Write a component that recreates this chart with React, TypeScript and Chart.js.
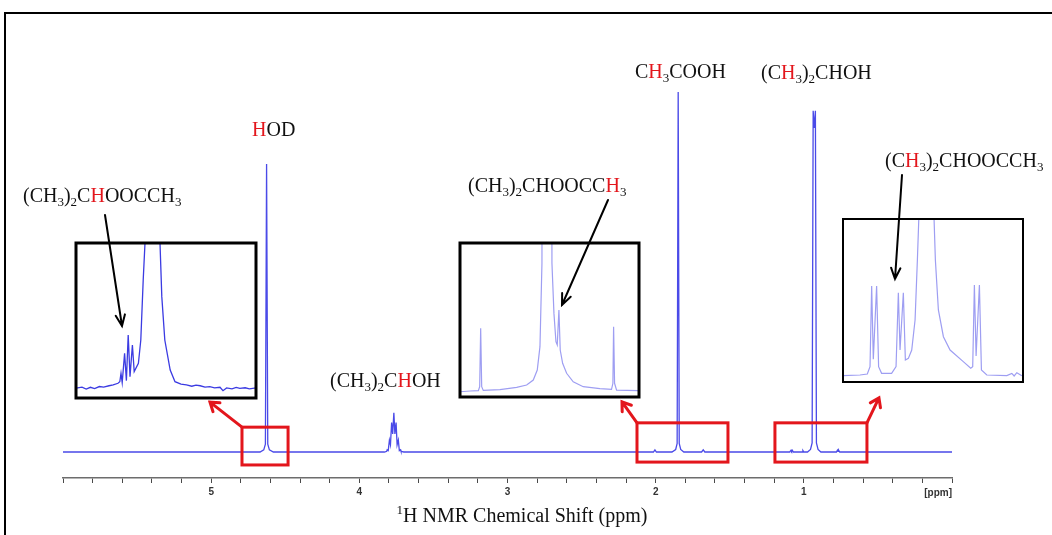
import React, { useEffect, useRef } from 'react';
import { Chart, registerables } from 'chart.js';

Chart.register(...registerables);

const W = 1052;
const H = 535;

// ---------- full 1H spectrum: chemical shift (ppm) / intensity (CH3COOH methyl = 100) ----------
const mainShift = [
  6.0, 4.67, 4.645, 4.634, 4.626, 4.618, 4.607, 4.58,
  3.83, 3.815, 3.812, 3.805, 3.797, 3.79, 3.782, 3.775, 3.767, 3.76, 3.752, 3.745, 3.737, 3.73, 3.722, 3.719, 3.7,
  2.015, 2.005, 1.995,
  1.89, 1.865, 1.855, 1.848, 1.841, 1.831, 1.81,
  1.69, 1.679, 1.668,
  1.095, 1.086, 1.082, 1.078, 1.07,
  1.012, 1.006, 1.0,
  0.975, 0.955, 0.944, 0.937, 0.93, 0.922, 0.915, 0.904, 0.885,
  0.78, 0.773, 0.769, 0.765, 0.758,
  0.0,
];
const mainIntensity = [
  0, 0, 0.6, 2.2, 80, 2.2, 0.6, 0,
  0, 0.2, 0.6, 0.4, 3.3, 2.0, 8.2, 5.0, 10.9, 5.0, 8.2, 2.0, 3.3, 0.4, 0.6, 0.2, 0,
  0, 0.6, 0,
  0, 0.7, 2.4, 100, 2.4, 0.7, 0,
  0, 0.6, 0,
  0, 0.5, 0.2, 0.5, 0,
  0, 0.4, 0,
  0, 0.7, 2.5, 94.8, 90, 94.8, 2.5, 0.7, 0,
  0, 0.5, 0.2, 0.5, 0,
  0,
];

// ---------- expansion around HOD (isopropyl acetate CH multiplet) ----------
const hodShift = [
  4.755, 4.745, 4.738, 4.731, 4.724, 4.716, 4.709, 4.7, 4.693, 4.685, 4.682,
  4.68, 4.678, 4.674, 4.671, 4.668, 4.665, 4.661, 4.658, 4.651, 4.647, 4.643, 4.64,
  4.628,
  4.615, 4.612, 4.607, 4.598, 4.59, 4.58, 4.571, 4.562, 4.555, 4.548, 4.54, 4.532,
  4.524, 4.515, 4.51, 4.504, 4.495, 4.488, 4.482, 4.473, 4.466, 4.455,
];
const hodIntensity = [
  6.3, 7.0, 5.8, 6.9, 6.1, 7.4, 7.0, 7.9, 8.4, 9.5, 10.5,
  15.9, 9.9, 28.8, 11.2, 40.6, 13.8, 34.2, 17.0, 22.4, 37.4, 76, 100,
  2500,
  100, 65.4, 37.4, 18, 10.5, 9.0, 8.4, 7.6, 8.3, 7.9, 7.0, 7.3,
  6.5, 6.9, 4.7, 6.5, 5.9, 6.8, 6.2, 6.6, 5.9, 6.5,
];

// ---------- expansion around CH3COOH (satellites, ester acetyl CH3) ----------
const acidShift = [
  2.061, 2.036, 2.016, 2.0127, 2.0103, 2.0078, 2.0039, 1.963, 1.922, 1.8975, 1.8813, 1.8715, 1.8649, 1.86,
  1.8478,
  1.8355, 1.8306, 1.8257, 1.8225, 1.8184, 1.8152, 1.8093, 1.7995, 1.7833, 1.7588, 1.7179,
  1.6894, 1.686, 1.6843, 1.6819, 1.677, 1.624,
];
const acidIntensity = [
  3.4, 3.9, 4.1, 6.7, 44.6, 6.7, 4.3, 4.8, 6.3, 7.8, 11, 17.5, 32.7, 86.8,
  3000,
  86.8, 54.3, 35.9, 33.8, 56.5, 30.5, 21.9, 15.4, 9.9, 6.7, 5.4,
  5.0, 8.9, 45.6, 8.9, 4.5, 4.1,
];

// ---------- expansion around (CH3)2CHOH (satellites, ester isopropyl CH3) ----------
const ipaShift = [
  1.183, 1.1315, 1.1094, 1.1012, 1.0962, 1.0912, 1.0812, 1.0752, 1.0661, 1.0358,
  1.0224, 1.0154, 1.0103, 1.0003, 0.9942, 0.9851, 0.9749, 0.9648, 0.9578, 0.9536,
  0.9306,
  0.9072, 0.9033, 0.8942, 0.879, 0.8588, 0.8188, 0.7963, 0.7903, 0.7852, 0.78, 0.77,
  0.7639, 0.7476, 0.687, 0.6718, 0.6648, 0.6567, 0.6415,
];
const ipaIntensity = [
  3.9, 4.3, 4.9, 9.4, 58.9, 14, 58.9, 9.4, 5.3, 5.3,
  9.4, 54.8, 19.6, 54.8, 13.5, 14.5, 19.6, 38, 74.8, 99.4,
  3000,
  99.4, 74.8, 44.2, 27.8, 19.6, 12.5, 8.4, 9.4, 59.5, 16, 59.5,
  7.4, 4.3, 3.9, 5.3, 3.7, 5.7, 3.9,
];

// axis labels
const majorTicks = [5, 4, 3, 2, 1];
const axisUnit = '[ppm]';

// regions marked on the full spectrum (ppm range, intensity range)
const zoomFrom = [4.792, 2.126, 1.195];
const zoomTo = [4.481, 1.512, 0.574];
const zoomTop = [6.9, 8.1, 8.1];
const zoomBottom = [-3.6, -2.8, -2.8];

type Seg = [string, 'n' | 'r' | 's' | 'p'];

const labelHOD: Seg[] = [['H', 'r'], ['OD', 'n']];
const labelEsterCH: Seg[] = [['(CH', 'n'], ['3', 's'], [')', 'n'], ['2', 's'], ['C', 'n'], ['H', 'r'], ['OOCCH', 'n'], ['3', 's']];
const labelIpaCH: Seg[] = [['(CH', 'n'], ['3', 's'], [')', 'n'], ['2', 's'], ['C', 'n'], ['H', 'r'], ['OH', 'n']];
const labelAcid: Seg[] = [['C', 'n'], ['H', 'r'], ['3', 's'], ['COOH', 'n']];
const labelIpaCH3: Seg[] = [['(C', 'n'], ['H', 'r'], ['3', 's'], [')', 'n'], ['2', 's'], ['CHOH', 'n']];
const labelEsterAcetyl: Seg[] = [['(CH', 'n'], ['3', 's'], [')', 'n'], ['2', 's'], ['CHOOCC', 'n'], ['H', 'r'], ['3', 's']];
const labelEsterMethyl: Seg[] = [['(C', 'n'], ['H', 'r'], ['3', 's'], [')', 'n'], ['2', 's'], ['CHOOCCH', 'n'], ['3', 's']];
const axisTitle: Seg[] = [['1', 'p'], ['H NMR Chemical Shift (ppm)', 'n']];

const SERIF = '"Liberation Serif", "Times New Roman", serif';
const RED = '#e3161c';

function richWidth(ctx: CanvasRenderingContext2D, segs: Seg[]) {
  let w = 0;
  for (const [t, k] of segs) {
    ctx.font = k === 's' || k === 'p' ? `13px ${SERIF}` : `20px ${SERIF}`;
    w += ctx.measureText(t).width;
  }
  return w;
}

function drawRich(ctx: CanvasRenderingContext2D, segs: Seg[], x: number, y: number) {
  let cx = x;
  ctx.textAlign = 'left';
  ctx.textBaseline = 'alphabetic';
  for (const [t, k] of segs) {
    const small = k === 's' || k === 'p';
    ctx.font = small ? `13px ${SERIF}` : `20px ${SERIF}`;
    ctx.fillStyle = k === 'r' ? RED : '#111';
    const dy = k === 's' ? 4 : k === 'p' ? -8 : 0;
    ctx.fillText(t, cx, y + dy);
    cx += ctx.measureText(t).width;
  }
}

function arrow(ctx: CanvasRenderingContext2D, x0: number, y0: number, x1: number, y1: number, head: number, spread: number) {
  const a = Math.atan2(y1 - y0, x1 - x0);
  ctx.beginPath();
  ctx.moveTo(x0, y0);
  ctx.lineTo(x1, y1);
  ctx.moveTo(x1 - head * Math.cos(a - spread), y1 - head * Math.sin(a - spread));
  ctx.lineTo(x1, y1);
  ctx.lineTo(x1 - head * Math.cos(a + spread), y1 - head * Math.sin(a + spread));
  ctx.stroke();
}

const toPoints = (xs: number[], ys: number[]) => xs.map((x, i) => ({ x, y: ys[i] }));

const annotationPlugin = {
  id: 'spectrumAnnotations',
  afterDraw(chart: any) {
    const ctx: CanvasRenderingContext2D = chart.ctx;
    const xs = chart.scales.x;
    const ys = chart.scales.y;
    ctx.save();

    // outer frame
    ctx.strokeStyle = '#000';
    ctx.lineWidth = 2;
    ctx.strokeRect(5, 13, W + 20, H + 20);

    // peak assignments
    drawRich(ctx, labelHOD, 252, 136);
    drawRich(ctx, labelEsterCH, 23, 202);
    drawRich(ctx, labelIpaCH, 330, 387);
    drawRich(ctx, labelAcid, 635, 78);
    drawRich(ctx, labelIpaCH3, 761, 79);
    drawRich(ctx, labelEsterAcetyl, 468, 192);
    drawRich(ctx, labelEsterMethyl, 885, 167);

    // axis title and unit
    const tw = richWidth(ctx, axisTitle);
    drawRich(ctx, axisTitle, 522 - tw / 2, 522);
    ctx.font = `bold 10px "Liberation Sans", Arial, sans-serif`;
    ctx.fillStyle = '#333';
    ctx.textAlign = 'right';
    ctx.textBaseline = 'alphabetic';
    ctx.fillText(axisUnit, xs.getPixelForValue(0), 496);

    // expanded regions and pointers to their insets
    ctx.strokeStyle = RED;
    ctx.lineWidth = 3;
    ctx.lineCap = 'round';
    const corners: { x: number; y: number }[] = [];
    for (let i = 0; i < zoomFrom.length; i++) {
      const l = xs.getPixelForValue(zoomFrom[i]);
      const r = xs.getPixelForValue(zoomTo[i]);
      const t = ys.getPixelForValue(zoomTop[i]);
      const b = ys.getPixelForValue(zoomBottom[i]);
      ctx.strokeRect(l, t, r - l, b - t);
      corners.push(i === 2 ? { x: r, y: t } : { x: l, y: t });
    }
    arrow(ctx, corners[0].x, corners[0].y, corners[0].x - 32, corners[0].y - 25, 10, 0.6);
    arrow(ctx, corners[1].x, corners[1].y, corners[1].x - 15, corners[1].y - 21, 10, 0.6);
    arrow(ctx, corners[2].x, corners[2].y, corners[2].x + 12, corners[2].y - 25, 10, 0.6);
    ctx.restore();
  },
};

function mainConfig(): any {
  return {
    type: 'line',
    data: {
      datasets: [
        {
          data: toPoints(mainShift, mainIntensity),
          borderColor: '#4a4ae8',
          borderWidth: 1.3,
          pointRadius: 0,
          tension: 0,
          fill: false,
        },
      ],
    },
    options: {
      responsive: false,
      animation: false,
      devicePixelRatio: 1,
      layout: { padding: { left: 63, right: 100, top: 20, bottom: 27 } },
      plugins: { legend: { display: false }, tooltip: { enabled: false } },
      scales: {
        x: {
          type: 'linear',
          min: 0,
          max: 6,
          reverse: true,
          afterFit: (scale: any) => {
            scale.height = 30;
          },
          border: { display: true, color: '#6d6d6d', width: 1.5 },
          grid: { drawOnChartArea: false, drawTicks: true, tickLength: 5, color: '#4a4a4a', lineWidth: 1 },
          ticks: {
            stepSize: 0.2,
            autoSkip: false,
            maxRotation: 0,
            minRotation: 0,
            padding: 3,
            color: '#333',
            font: { family: '"Liberation Sans", Arial, sans-serif', size: 10, weight: 'bold' },
            callback: (value: any) => {
              const v = Number(value);
              const r = Math.round(v);
              return Math.abs(v - r) < 1e-6 && majorTicks.includes(r) ? String(r) : '';
            },
          },
        },
        y: { display: false, min: -7.222, max: 120 },
      },
    },
    plugins: [annotationPlugin],
  };
}

interface InsetSpec {
  box: { x: number; y: number; w: number; h: number };
  border: number;
  xs: number[];
  ys: number[];
  range: [number, number];
  color: string;
  width: number;
  pointer: [number, number, number, number];
}

const insetSpecs: InsetSpec[] = [
  {
    box: { x: 76, y: 243, w: 180, h: 155 },
    border: 3,
    xs: hodShift,
    ys: hodIntensity,
    range: [4.455, 4.755],
    color: '#3b3be2',
    width: 1.3,
    pointer: [105, 215, 122, 326],
  },
  {
    box: { x: 460, y: 243, w: 179, h: 154 },
    border: 3,
    xs: acidShift,
    ys: acidIntensity,
    range: [1.622, 2.061],
    color: '#9e9ef2',
    width: 1.2,
    pointer: [608, 200, 562, 305],
  },
  {
    box: { x: 843, y: 219, w: 180, h: 163 },
    border: 2,
    xs: ipaShift,
    ys: ipaIntensity,
    range: [0.638, 1.183],
    color: '#9e9ef2',
    width: 1.2,
    pointer: [902, 175, 895, 279],
  },
];

function insetConfig(spec: InsetSpec): any {
  const { box } = spec;
  return {
    type: 'line',
    data: {
      datasets: [
        {
          data: toPoints(spec.xs, spec.ys),
          borderColor: spec.color,
          borderWidth: spec.width,
          pointRadius: 0,
          tension: 0,
          fill: false,
        },
      ],
    },
    options: {
      responsive: false,
      animation: false,
      devicePixelRatio: 1,
      layout: {
        padding: { left: box.x, top: box.y, right: W - box.x - box.w, bottom: H - box.y - box.h },
      },
      plugins: { legend: { display: false }, tooltip: { enabled: false } },
      scales: {
        x: { type: 'linear', display: false, min: spec.range[0], max: spec.range[1], reverse: true },
        y: { display: false, min: 0, max: 100 },
      },
    },
    plugins: [
      {
        id: 'insetFrame',
        beforeDatasetsDraw(chart: any) {
          const a = chart.chartArea;
          const ctx: CanvasRenderingContext2D = chart.ctx;
          ctx.save();
          ctx.fillStyle = '#fff';
          ctx.fillRect(a.left, a.top, a.right - a.left, a.bottom - a.top);
          ctx.restore();
        },
        afterDraw(chart: any) {
          const a = chart.chartArea;
          const ctx: CanvasRenderingContext2D = chart.ctx;
          ctx.save();
          ctx.strokeStyle = '#000';
          ctx.lineWidth = spec.border;
          ctx.strokeRect(a.left, a.top, a.right - a.left, a.bottom - a.top);
          ctx.lineWidth = 2;
          ctx.lineCap = 'round';
          const [x0, y0, x1, y1] = spec.pointer;
          arrow(ctx, x0, y0, x1, y1, 12, 0.4);
          ctx.restore();
        },
      },
    ],
  };
}

export default function App() {
  const mainRef = useRef<HTMLCanvasElement>(null);
  const r0 = useRef<HTMLCanvasElement>(null);
  const r1 = useRef<HTMLCanvasElement>(null);
  const r2 = useRef<HTMLCanvasElement>(null);

  useEffect(() => {
    document.body.style.margin = '0';
    const charts: Chart[] = [];
    charts.push(new Chart(mainRef.current as HTMLCanvasElement, mainConfig()));
    [r0, r1, r2].forEach((ref, i) => {
      charts.push(new Chart(ref.current as HTMLCanvasElement, insetConfig(insetSpecs[i])));
    });
    return () => charts.forEach((c) => c.destroy());
  }, []);

  const layer: React.CSSProperties = { position: 'absolute', left: 0, top: 0 };
  return (
    <div style={{ position: 'absolute', left: 0, top: 0, width: W, height: H, background: '#fff', overflow: 'hidden' }}>
      <canvas ref={mainRef} width={W} height={H} style={layer} />
      <canvas ref={r0} width={W} height={H} style={layer} />
      <canvas ref={r1} width={W} height={H} style={layer} />
      <canvas ref={r2} width={W} height={H} style={layer} />
    </div>
  );
}
